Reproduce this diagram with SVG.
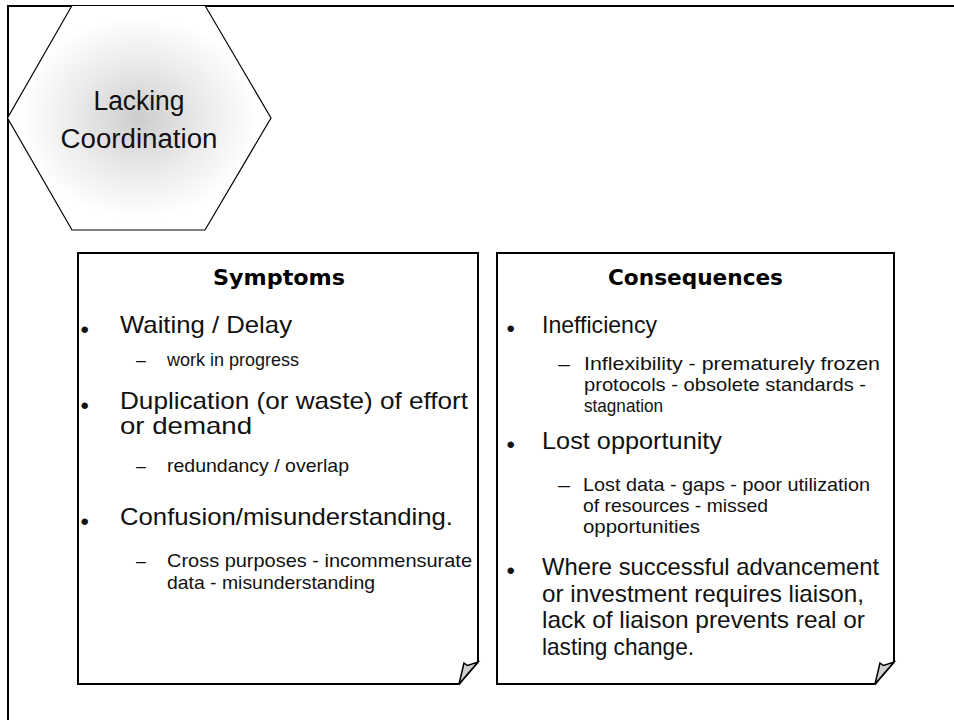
<svg xmlns="http://www.w3.org/2000/svg" width="954" height="720" viewBox="0 0 954 720">
  <defs>
    <radialGradient id="hexShade" cx="0.5" cy="0.5" r="0.5">
      <stop offset="0" stop-color="#cdcdcd"/>
      <stop offset="0.5" stop-color="#ebebeb"/>
      <stop offset="0.9" stop-color="#ffffff"/>
    </radialGradient>
  </defs>
  <style>
    .frame { fill: none; stroke: #000; stroke-width: 2; }
    .card { fill: #fff; stroke: #000; stroke-width: 2; stroke-linejoin: miter; }
    .curl { fill: #cfcfcf; stroke: #000; stroke-width: 1.5; stroke-linejoin: miter; }
    .hex { fill: url(#hexShade); stroke: #000; stroke-width: 1.2; }
    text { font-family: "Liberation Sans", Arial, sans-serif; fill: #111; }
    .title { font-size: 27px; text-anchor: middle; }
    .head { font-family: "DejaVu Sans", Verdana, sans-serif; font-weight: bold; font-size: 21px; fill: #000; }
    .main { font-size: 24px; }
    .sub { font-size: 18.5px; }
    .dot { font-size: 24px; }
  </style>

  <!-- page frame, continuing past the right and bottom edges -->
  <rect class="frame" x="8" y="6" width="1000" height="800"/>

  <!-- hexagon title -->
  <g id="lacking-coordination">
    <polygon class="hex" points="72,5.5 205,5.5 271,118 205,230 72,230 7.5,118"/>
    <text class="title" x="139" y="110" textLength="91" lengthAdjust="spacingAndGlyphs">Lacking</text>
    <text class="title" x="139" y="148" textLength="157" lengthAdjust="spacingAndGlyphs">Coordination</text>
  </g>

  <!-- symptoms card -->
  <g id="symptoms">
    <polygon class="card" points="78,253 478,253 478,662 459,684 78,684"/>
    <polygon class="curl" points="459,684 464,663 467.5,665.5 478,662"/>
    <text class="head" x="213" y="285" textLength="132" lengthAdjust="spacingAndGlyphs">Symptoms</text>

    <text class="dot" x="80.5" y="338">•</text>
    <text class="main" x="120" y="333" textLength="172" lengthAdjust="spacingAndGlyphs">Waiting / Delay</text>
    <text class="sub" x="136" y="366" textLength="10" lengthAdjust="spacingAndGlyphs">–</text>
    <text class="sub" x="167" y="366" textLength="132" lengthAdjust="spacingAndGlyphs">work in progress</text>

    <text class="dot" x="80.5" y="414">•</text>
    <text class="main" x="120" y="409" textLength="348" lengthAdjust="spacingAndGlyphs">Duplication (or waste) of effort</text>
    <text class="main" x="120" y="434" textLength="132" lengthAdjust="spacingAndGlyphs">or demand</text>
    <text class="sub" x="136" y="472" textLength="10" lengthAdjust="spacingAndGlyphs">–</text>
    <text class="sub" x="167" y="472" textLength="182" lengthAdjust="spacingAndGlyphs">redundancy / overlap</text>

    <text class="dot" x="80.5" y="530">•</text>
    <text class="main" x="120" y="525" textLength="333" lengthAdjust="spacingAndGlyphs">Confusion/misunderstanding.</text>
    <text class="sub" x="136" y="567" textLength="10" lengthAdjust="spacingAndGlyphs">–</text>
    <text class="sub" x="167" y="567" textLength="305" lengthAdjust="spacingAndGlyphs">Cross purposes - incommensurate</text>
    <text class="sub" x="167" y="589" textLength="208" lengthAdjust="spacingAndGlyphs">data - misunderstanding</text>
  </g>

  <!-- consequences card -->
  <g id="consequences">
    <polygon class="card" points="497,253 894,253 894,662 875,684 497,684"/>
    <polygon class="curl" points="875,684 880,663 883.5,665.5 894,662"/>
    <text class="head" x="608" y="285" textLength="175" lengthAdjust="spacingAndGlyphs">Consequences</text>

    <text class="dot" x="506.5" y="337">•</text>
    <text class="main" x="542" y="333" textLength="115" lengthAdjust="spacingAndGlyphs">Inefficiency</text>
    <text class="sub" x="558" y="370" textLength="12" lengthAdjust="spacingAndGlyphs">–</text>
    <text class="sub" x="584" y="370" textLength="296" lengthAdjust="spacingAndGlyphs">Inflexibility - prematurely frozen</text>
    <text class="sub" x="584" y="391" textLength="282" lengthAdjust="spacingAndGlyphs">protocols - obsolete standards -</text>
    <text class="sub" x="584" y="412" textLength="79" lengthAdjust="spacingAndGlyphs">stagnation</text>

    <text class="dot" x="506.5" y="453">•</text>
    <text class="main" x="542" y="449" textLength="180" lengthAdjust="spacingAndGlyphs">Lost opportunity</text>
    <text class="sub" x="558" y="491" textLength="12" lengthAdjust="spacingAndGlyphs">–</text>
    <text class="sub" x="583" y="491" textLength="287" lengthAdjust="spacingAndGlyphs">Lost data - gaps - poor utilization</text>
    <text class="sub" x="583" y="512" textLength="185" lengthAdjust="spacingAndGlyphs">of resources - missed</text>
    <text class="sub" x="583" y="533" textLength="117" lengthAdjust="spacingAndGlyphs">opportunities</text>

    <text class="dot" x="506.5" y="579">•</text>
    <text class="main" x="542" y="575" textLength="337" lengthAdjust="spacingAndGlyphs">Where successful advancement</text>
    <text class="main" x="542" y="602" textLength="322" lengthAdjust="spacingAndGlyphs">or investment requires liaison,</text>
    <text class="main" x="542" y="628" textLength="323" lengthAdjust="spacingAndGlyphs">lack of liaison prevents real or</text>
    <text class="main" x="542" y="655" textLength="152" lengthAdjust="spacingAndGlyphs">lasting change.</text>
  </g>
</svg>
